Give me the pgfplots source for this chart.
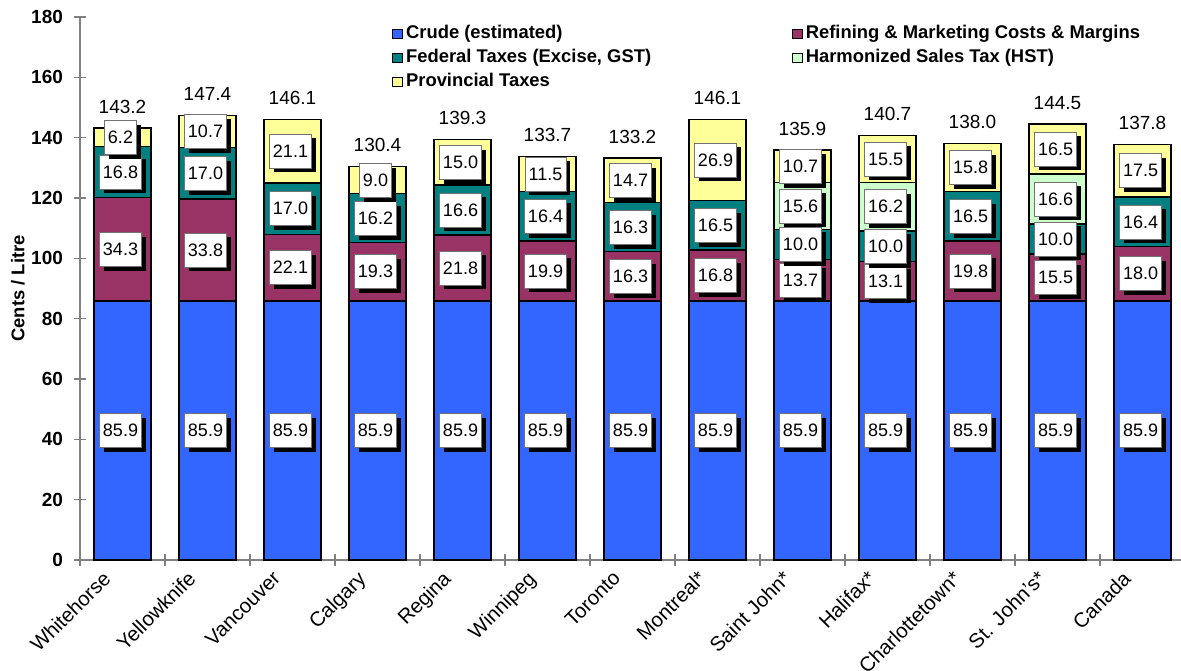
\documentclass[border=0pt]{standalone}
\usepackage{pgfplots}
\pgfplotsset{compat=1.18}
\usepackage{pgfplotstable}
\usepackage{fontspec}
\setmainfont{Liberation Sans}
\usetikzlibrary{shadows}
\definecolor{crude}{HTML}{3366FF}
\definecolor{refin}{HTML}{993366}
\definecolor{fedtax}{HTML}{008080}
\definecolor{hst}{HTML}{CCFFCC}
\definecolor{prov}{HTML}{FFFF99}
\definecolor{axgray}{HTML}{808080}

\pgfplotstableread{
x c r f h p
0 85.9 34.3 16.8 0 6.2
1 85.9 33.8 17.0 0 10.7
2 85.9 22.1 17.0 0 21.1
3 85.9 19.3 16.2 0 9.0
4 85.9 21.8 16.6 0 15.0
5 85.9 19.9 16.4 0 11.5
6 85.9 16.3 16.3 0 14.7
7 85.9 16.8 16.5 0 26.9
8 85.9 13.7 10.0 15.6 10.7
9 85.9 13.1 10.0 16.2 15.5
10 85.9 19.8 16.5 0 15.8
11 85.9 15.5 10.0 16.6 16.5
12 85.9 18.0 16.4 0 17.5
}\prices

\tikzset{
  lbl/.style={fill=white, draw=black!55, line width=0.3pt, inner xsep=1.8pt, inner ysep=0pt,
    minimum height=17pt, anchor=center, xshift=-1pt,
    font=\fontsize{9}{10}\selectfont,
    drop shadow={shadow xshift=2.2pt, shadow yshift=-2.2pt, opacity=1, fill=black}},
}
\pgfplotsset{
  base/.style={
    scale only axis, width=552.5pt, height=271.5pt,
    xmin=-0.5, xmax=12.5, ymin=0, ymax=180,
    /pgf/number format/assume math mode=true,
  },
  sq/.style={legend image code/.code={\draw[##1,draw=black,line width=0.5pt] (0pt,-2.4pt) rectangle (4.8pt,2.4pt);}},
  bars/.style={draw=black, line width=0.7pt},
}

\begin{document}
\begin{tikzpicture}
\useasboundingbox (-40pt,-55pt) rectangle (550.5pt,280pt);
\begin{axis}[base,
  ybar stacked, bar width=28.5pt,
  axis lines*=left,
  axis line style={axgray, line width=0.7pt},
  tick style={axgray, line width=0.7pt},
  tick align=center,
  major tick length=6pt,
  ytick={0,20,...,180},
  yticklabel style={font=\bfseries\fontsize{9.5}{11}\selectfont, xshift=-2pt},
  xtick={-0.5,0.5,...,12.5},
  xticklabels={},
  extra x ticks={0,1,...,12},
  extra x tick labels={Whitehorse,Yellowknife,Vancouver,Calgary,Regina,Winnipeg,Toronto,Montreal*,Saint John*,Halifax*,Charlottetown*,St. John's*,Canada},
  extra x tick style={major tick length=0pt, tick style={draw=none}},
  xticklabel style={font=\fontsize{10.2}{12}\selectfont, inner sep=0pt, xshift=-10.5pt, yshift=-4.5pt, rotate=45, anchor=north east},
  ylabel={Cents / Litre},
  every axis y label/.style={at={(axis description cs:0,0.5)}, xshift=-31pt, rotate=90, anchor=center, font=\bfseries\fontsize{9.2}{10}\selectfont},
  legend columns=2,
  legend cell align=left,
  legend style={at={(rel axis cs:0.277,0.999)}, anchor=north west, draw=none, fill=none,
    font=\bfseries\fontsize{9.2}{10}\selectfont, row sep=0pt,
    nodes={inner sep=1.5pt, text height=7pt, text depth=2pt},
    /tikz/every even column/.append style={column sep=69pt}},
]
\addplot[bars, fill=crude, sq] table[x=x,y=c]{\prices};
\addlegendentry{Crude (estimated)}
\addplot[bars, fill=refin, sq] table[x=x,y=r]{\prices};
\addlegendentry{Refining \& Marketing Costs \& Margins}
\addplot[bars, fill=fedtax, sq] table[x=x,y=f]{\prices};
\addlegendentry{Federal Taxes (Excise, GST)}
\addplot[bars, fill=hst, sq] table[x=x,y=h]{\prices};
\addlegendentry{Harmonized Sales Tax (HST)}
\addplot[bars, fill=prov, sq] table[x=x,y=p]{\prices};
\addlegendentry{Provincial Taxes}
\end{axis}

\begin{axis}[base, axis lines=none,
  /pgf/number format/.cd, fixed, fixed zerofill, precision=1, assume math mode=true, /pgfplots/.cd,
  every node near coord/.append style={lbl},
]
\addplot[draw=none, nodes near coords, point meta=explicit]
  table[x=x, y expr={\thisrow{c}/2}, meta=c]{\prices};
\addplot[draw=none, nodes near coords, point meta=explicit]
  table[x=x, y expr={\thisrow{c}+\thisrow{r}/2}, meta=r]{\prices};
\addplot[draw=none, nodes near coords, point meta=explicit]
  table[x=x, y expr={\thisrow{c}+\thisrow{r}+\thisrow{f}/2}, meta=f]{\prices};
\addplot[draw=none, nodes near coords, point meta=explicit]
  table[x=x, y expr={\thisrow{h}>0 ? \thisrow{c}+\thisrow{r}+\thisrow{f}+\thisrow{h}/2 : nan}, meta=h]{\prices};
\addplot[draw=none, nodes near coords, point meta=explicit]
  table[x=x, y expr={\thisrow{c}+\thisrow{r}+\thisrow{f}+\thisrow{h}+\thisrow{p}/2}, meta=p]{\prices};
\addplot[draw=none, nodes near coords, point meta=explicit,
  every node near coord/.style={anchor=base, yshift=7.5pt, font=\fontsize{9.5}{11}\selectfont}]
  table[x=x, y expr={\thisrow{c}+\thisrow{r}+\thisrow{f}+\thisrow{h}+\thisrow{p}},
        meta expr={\thisrow{c}+\thisrow{r}+\thisrow{f}+\thisrow{h}+\thisrow{p}}]{\prices};
\end{axis}
\end{tikzpicture}
\end{document}
